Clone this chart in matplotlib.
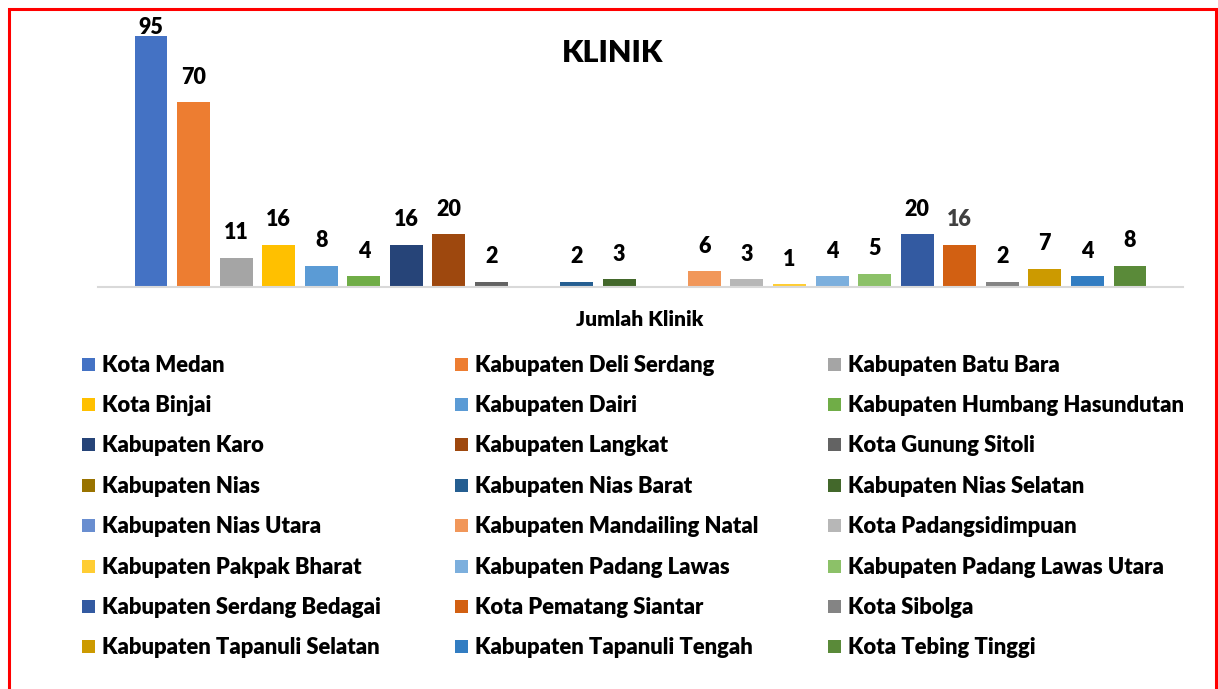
import matplotlib
matplotlib.use("Agg")
import matplotlib.pyplot as plt
from matplotlib.patches import Rectangle
import numpy as np

plt.rcParams['font.family'] = ['Lato', 'DejaVu Sans']

categories = [
    "Kota Medan", "Kabupaten Deli Serdang", "Kabupaten Batu Bara",
    "Kota Binjai", "Kabupaten Dairi", "Kabupaten Humbang Hasundutan",
    "Kabupaten Karo", "Kabupaten Langkat", "Kota Gunung Sitoli",
    "Kabupaten Nias", "Kabupaten Nias Barat", "Kabupaten Nias Selatan",
    "Kabupaten Nias Utara", "Kabupaten Mandailing Natal", "Kota Padangsidimpuan",
    "Kabupaten Pakpak Bharat", "Kabupaten Padang Lawas", "Kabupaten Padang Lawas Utara",
    "Kabupaten Serdang Bedagai", "Kota Pematang Siantar", "Kota Sibolga",
    "Kabupaten Tapanuli Selatan", "Kabupaten Tapanuli Tengah", "Kota Tebing Tinggi",
]
values = [95, 70, 11, 16, 8, 4, 16, 20, 2, None, 2, 3, None, 6, 3, 1, 4, 5,
          20, 16, 2, 7, 4, 8]
colors = ["#4472C4", "#ED7D31", "#A5A5A5", "#FFC000", "#5B9BD5", "#70AD47",
          "#264478", "#9E480E", "#636363", "#997300", "#255E91", "#43682B",
          "#698ED0", "#F1975A", "#B7B7B7", "#FFCD33", "#7CAFDD", "#8CC168",
          "#335AA1", "#D26012", "#848484", "#CC9A00", "#327DC2", "#5A8A39"]
label_colors = ["#000000"] * 24
label_colors[19] = "#404040"
title = "KLINIK"
xlabel = "Jumlah Klinik"

W, H = 1218, 689
fig = plt.figure(figsize=(W / 100, H / 100), dpi=100)
fig.patch.set_facecolor("white")
WEIGHT = "heavy"

def fx(px):
    return px / W

def fy(py):
    return 1 - py / H

ax = fig.add_axes([fx(98), fy(287), fx(1183) - fx(98), (287 - 36) / H])
x = np.arange(len(categories))
vals = np.array([np.nan if v is None else v for v in values], dtype=float)
ax.bar(x, np.nan_to_num(vals), width=0.775, color=colors, zorder=2)
ax.set_xlim(-1.245, len(categories) - 1 + 1.245)
ax.set_ylim(0, 95)
for s in ["top", "left", "right"]:
    ax.spines[s].set_visible(False)
ax.spines["bottom"].set_color("#D9D9D9")
ax.spines["bottom"].set_linewidth(1.5)
ax.set_xticks([])
ax.set_yticks([])
ax.patch.set_alpha(0)

fig.canvas.draw()
for xi, v, lc in zip(x, vals, label_colors):
    if np.isnan(v):
        continue
    _, ytop = ax.transData.transform((xi, v))
    top_px = H - ytop
    center_px = max(top_px - 25, 28)
    off_pt = (top_px - center_px) * 72 / 100
    ax.annotate(f"{int(v)}", (xi, v), xytext=(0, off_pt), textcoords="offset points",
                ha="center", va="center", fontsize=15.5, fontweight=WEIGHT,
                color=lc, annotation_clip=False)

fig.text(fx(613), fy(53), title, ha="center", va="center", fontsize=22,
         fontweight=WEIGHT, color="black")
fig.text(fx(640), fy(319), xlabel, ha="center", va="center", fontsize=15,
         fontweight=WEIGHT, color="black")

# legend
col_x = [82, 455, 828]
row_y0, row_dy = 364, 40.4
for i, (cat, c) in enumerate(zip(categories, colors)):
    r, col = divmod(i, 3)
    cx = col_x[col]
    cy = row_y0 + r * row_dy
    fig.patches.append(Rectangle((fx(cx), fy(cy + 6.5)), 13 / W, 13 / H,
                                 transform=fig.transFigure, facecolor=c,
                                 edgecolor="none"))
    fig.text(fx(cx + 20), fy(cy + 1), cat, ha="left", va="center", fontsize=15.8,
             fontweight=WEIGHT, color="black")

# red border
fig.patches.append(Rectangle((fx(8.5), fy(700)), (1216 - 8.5) / W, (700 - 9) / H,
                             transform=fig.transFigure, facecolor="none",
                             edgecolor="#FF0000", linewidth=2.2, clip_on=False))

fig.savefig("out.png", dpi=100)
